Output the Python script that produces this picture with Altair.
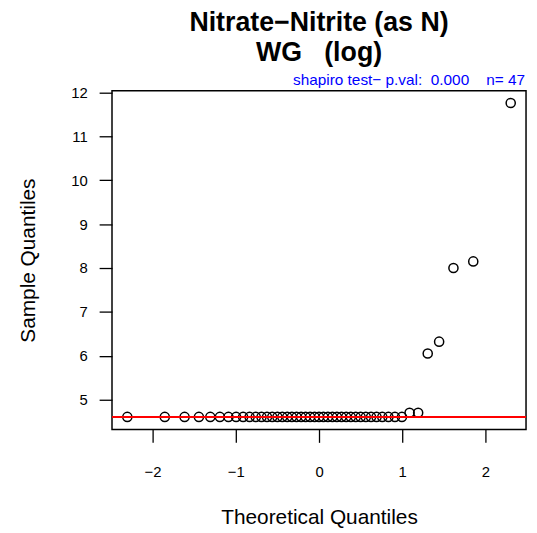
import altair as alt
import pandas as pd

# Theoretical quantiles (x) and sorted sample values (y)
theoretical = [
    -2.303, -1.853, -1.615, -1.443, -1.306, -1.191, -1.088, -0.996, -0.912, -0.834,
    -0.760, -0.691, -0.625, -0.562, -0.500, -0.441, -0.382, -0.326, -0.270, -0.215,
    -0.161, -0.107, -0.053, 0.000, 0.053, 0.107, 0.161, 0.215, 0.270, 0.326,
    0.382, 0.441, 0.500, 0.562, 0.625, 0.691, 0.760, 0.834, 0.912, 0.996,
    1.088, 1.191, 1.306, 1.443, 1.615, 1.853, 2.303,
]
sample = [4.605] * 40 + [4.70, 4.70, 6.05, 6.32, 8.00, 8.15, 11.76]
qq_line_value = [4.605]

x_ticks = [-2, -1, 0, 1, 2]
y_ticks = [5, 6, 7, 8, 9, 10, 11, 12]
x_domain = [-2.487, 2.487]
y_domain = [4.319, 12.04]

NB = "\u00a0"
title_lines = ["Nitrate\u2212Nitrite (as N)", "WG" + NB * 3 + "(log)"]
subtitle_text = ["shapiro test\u2212 p.val:" + NB * 2 + "0.000" + NB * 4 + "n= 47"]

FONT = "Liberation Sans"

pts = pd.DataFrame({"x": theoretical, "y": sample})
line_df = pd.DataFrame({"v": qq_line_value})
sub_df = pd.DataFrame({"t": subtitle_text})

W, H = 418, 342

xscale = alt.Scale(domain=x_domain, nice=False, zero=False)
yscale = alt.Scale(domain=y_domain, nice=False, zero=False)

points = alt.Chart(pts).mark_point(
    shape="circle", filled=False, color="black", size=85, strokeWidth=1.5, opacity=1
).encode(
    x=alt.X("x:Q", scale=xscale, title="Theoretical Quantiles",
            axis=alt.Axis(values=x_ticks,
                          labelExpr="datum.value < 0 ? '\u2212' + abs(datum.value) : datum.label",
                          domain=False, grid=False, tickColor="black", tickSize=13,
                          tickWidth=1.3, labelPadding=22, labelFontSize=15,
                          labelColor="black", labelFont=FONT, titleFont=FONT,
                          titleFontSize=21, titleFontWeight="normal", titleColor="black",
                          titlePadding=28)),
    y=alt.Y("y:Q", scale=yscale, title="Sample Quantiles",
            axis=alt.Axis(values=y_ticks, domain=False, grid=False, tickColor="black",
                          tickSize=13, tickWidth=1.3, labelPadding=12, labelFontSize=15,
                          labelAngle=0, labelColor="black", labelFont=FONT,
                          titleFont=FONT, titleFontSize=21, titleFontWeight="normal",
                          titleColor="black", titlePadding=33)),
)

rule = alt.Chart(line_df).mark_rule(color="red", strokeWidth=2).encode(
    y=alt.Y("v:Q", scale=yscale)
)

sub = alt.Chart(sub_df).mark_text(
    align="right", baseline="alphabetic", color="blue", fontSize=15.5, font=FONT
).encode(x=alt.value(W - 1), y=alt.value(-6), text="t:N")

chart = alt.layer(points, rule, sub).properties(
    width=W, height=H,
    title=alt.TitleParams(text=title_lines, fontSize=27, font=FONT, fontWeight="bold",
                          color="black", anchor="middle", offset=6, lineHeight=30),
    autosize=alt.AutoSizeParams(type="none"),
    padding={"left": 105, "top": 81, "right": 3, "bottom": 101},
).configure_view(stroke="black", strokeWidth=1.5)

chart.save("out.html", embed_options={"renderer": "svg", "actions": False})
